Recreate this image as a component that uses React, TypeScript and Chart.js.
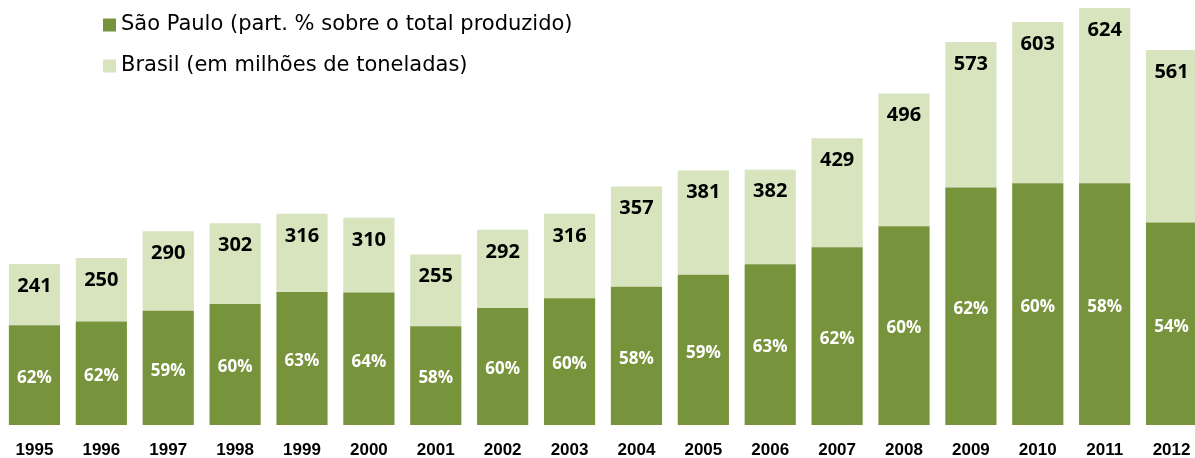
import React, { useEffect, useRef } from "react";
import { Chart, registerables } from "chart.js";

Chart.register(...registerables);

const years = ["1995","1996","1997","1998","1999","2000","2001","2002","2003","2004","2005","2006","2007","2008","2009","2010","2011","2012"];
const brasilTotal = [241,250,290,302,316,310,255,292,316,357,381,382,429,496,573,603,624,561];
const spShare = [62,62,59,60,63,64,58,60,60,58,59,63,62,60,62,60,58,54];

const spLabel = "São Paulo (part. % sobre o total produzido)";
const brLabel = "Brasil (em milhões de toneladas)";
const DARK = "#77933C";
const LIGHT = "#D7E4BD";

export default function App() {
  const ref = useRef<HTMLCanvasElement>(null);
  useEffect(() => {
    document.body.style.margin = "0";
    const spValues = brasilTotal.map((t, i) => (t * spShare[i]) / 100);
    const restValues = brasilTotal.map((t, i) => t - spValues[i]);

    const labelsPlugin = {
      id: "labelsPlugin",
      afterDatasetsDraw(chart: any) {
        const ctx = chart.ctx;
        const m0 = chart.getDatasetMeta(0);
        const m1 = chart.getDatasetMeta(1);
        ctx.save();
        ctx.textAlign = "center";
        ctx.textBaseline = "middle";
        m0.data.forEach((bar: any, i: number) => {
          const bottom = bar.base;
          const mid = (bar.y + bottom) / 2 + 3;
          ctx.fillStyle = "#FFFFFF";
          ctx.font = "bold 17px 'Open Sans'";
          ctx.fillText(spShare[i] + "%", bar.x, mid);
          const top = m1.data[i].y;
          ctx.fillStyle = "#000000";
          ctx.font = "bold 20px 'Open Sans'";
          ctx.fillText(String(brasilTotal[i]), bar.x, top + 22);
        });
        // legend
        const items = [
          { c: DARK, t: spLabel, y: 25 },
          { c: LIGHT, t: brLabel, y: 66 },
        ];
        ctx.textAlign = "left";
        ctx.font = "21px 'DejaVu Sans'";
        items.forEach((it) => {
          ctx.fillStyle = it.c;
          ctx.fillRect(103, it.y - 6.5, 13, 13);
          ctx.fillStyle = "#000000";
          ctx.fillText(it.t, 121, it.y);
        });
        ctx.restore();
      },
    };

    const chart = new Chart(ref.current!, {
      type: "bar",
      data: {
        labels: years,
        datasets: [
          { label: spLabel, data: spValues, backgroundColor: DARK, barPercentage: 0.765, categoryPercentage: 1 },
          { label: brLabel, data: restValues, backgroundColor: LIGHT, barPercentage: 0.765, categoryPercentage: 1 },
        ],
      },
      options: {
        responsive: false,
        animation: false,
        layout: { padding: { left: 1, right: 1, top: 0, bottom: 0 } },
        plugins: { legend: { display: false }, tooltip: { enabled: false } },
        scales: {
          x: {
            stacked: true,
            grid: { display: false, drawTicks: false },
            border: { display: false },
            ticks: { color: "#000", font: { family: "'Liberation Sans'", size: 17, weight: "bold" }, padding: 15 },
            afterFit: (s: any) => { s.height = 33; },
          },
          y: { stacked: true, display: false, min: 0, max: 636 },
        },
      },
      plugins: [labelsPlugin],
    });
    return () => chart.destroy();
  }, []);

  return (
    <div style={{ width: 1195, height: 458, overflow: "hidden", position: "relative" }}>
      <canvas ref={ref} width={1206} height={458} style={{ display: "block" }} />
    </div>
  );
}
